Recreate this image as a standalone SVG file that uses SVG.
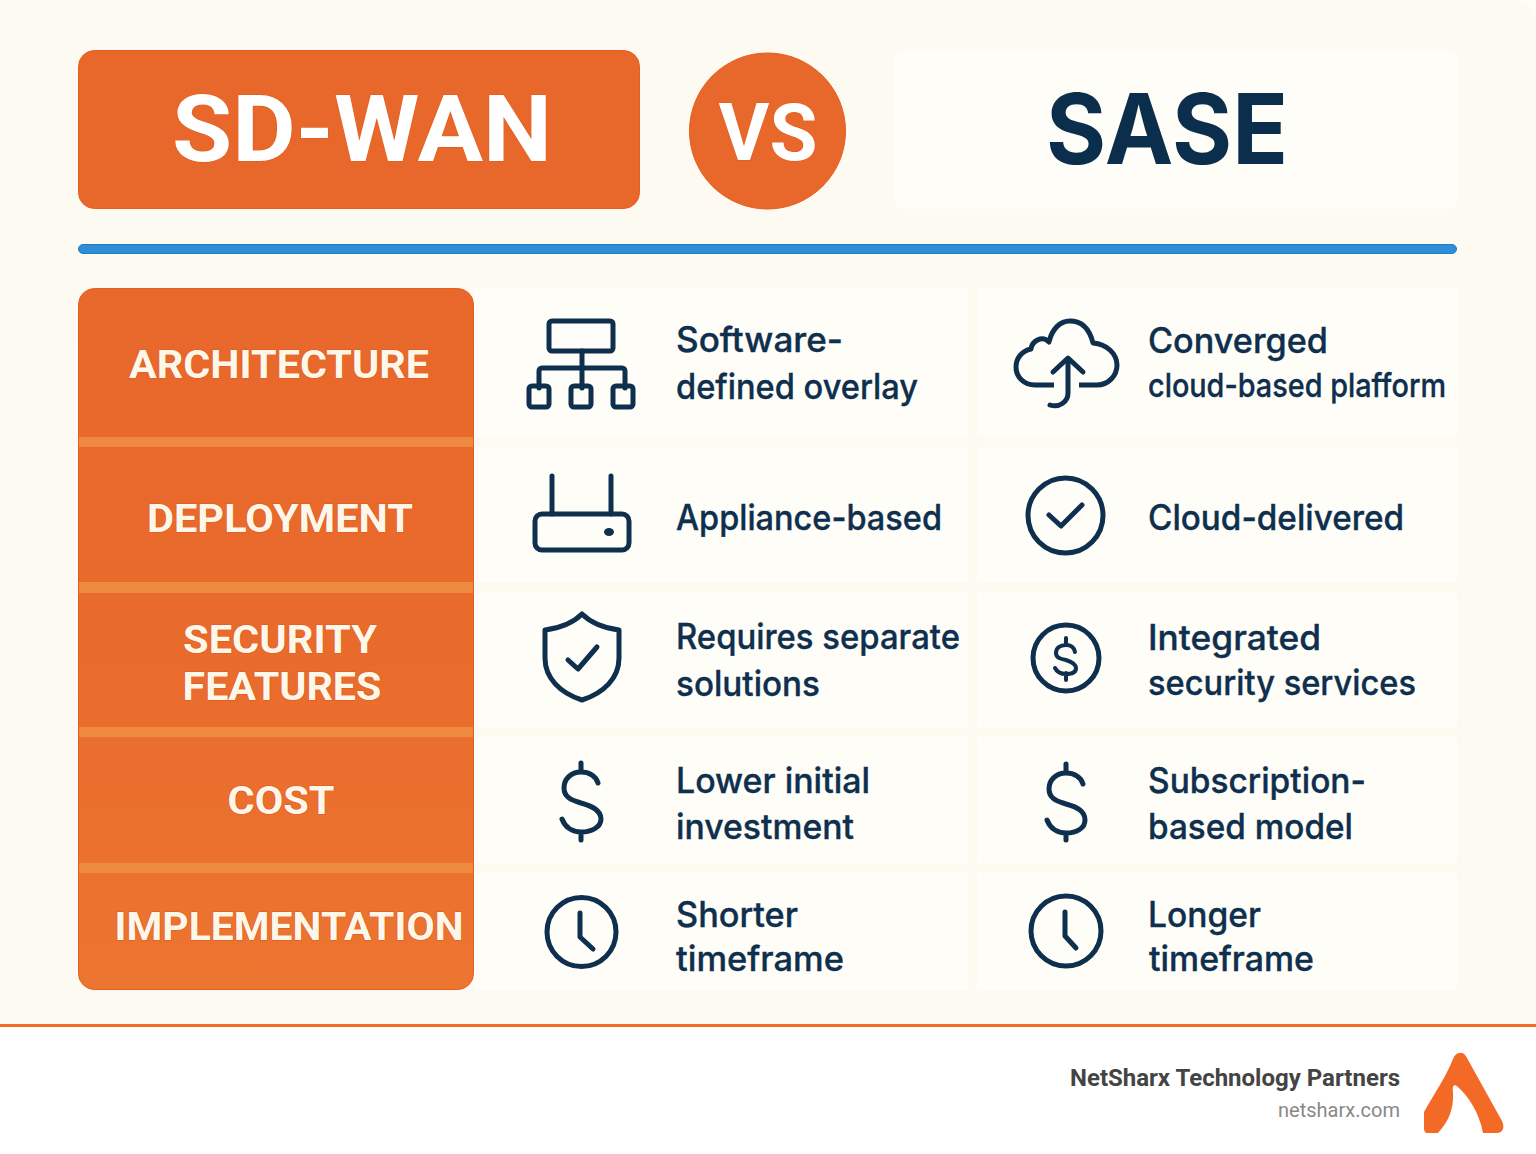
<svg xmlns="http://www.w3.org/2000/svg" width="1536" height="1154" viewBox="0 0 1536 1154">
<defs>
<linearGradient id="panel" x1="0" y1="0" x2="0" y2="1"><stop offset="0" stop-color="#e8682b"/><stop offset=".5" stop-color="#e96b2c"/><stop offset="1" stop-color="#ec7530"/></linearGradient>
</defs>
<style>
.cell{fill:#fefdf8}
.ic{fill:none;stroke:#0e2f4d;stroke-width:5;stroke-linecap:round;stroke-linejoin:round}
.body{font-family:Inter,"Noto Sans",sans-serif;font-size:35px;font-weight:500;fill:#0e2f4d;stroke:#0e2f4d;stroke-width:.35}
.lab{font-family:Roboto,"Noto Sans",sans-serif;font-size:39px;font-weight:700;fill:#fdf7ea;stroke:#e2581c;stroke-width:1.2;paint-order:stroke;text-anchor:middle}
.sep{fill:#ee8a40}
.ttl{font-family:Roboto,sans-serif;font-weight:700;fill:#ffffff;stroke:#e2581c;stroke-width:1;paint-order:stroke;text-anchor:middle}
</style>
<rect width="1536" height="1154" fill="#ffffff"/>
<rect width="1536" height="1026" fill="#fefdf8"/>
<path d="M0 0H1510Q1536 0 1536 26V1026H0Z" fill="#fcfaf1"/>
<g id="header-sdwan"><rect x="78.500" y="50.500" width="561" height="158" rx="16" fill="#e8682b" stroke="#e85c1e"/>
<text class="ttl" x="362" y="161" font-size="92" textLength="380" lengthAdjust="spacingAndGlyphs">SD-WAN</text></g>
<g id="header-vs"><circle cx="767.500" cy="131" r="78" fill="#e8682b" stroke="#e85c1e"/>
<text class="ttl" x="768" y="160" font-size="80" textLength="99" lengthAdjust="spacingAndGlyphs">VS</text></g>
<g id="header-sase"><rect x="895" y="51" width="562" height="158" rx="6" fill="#fefdf8"/>
<text x="1167" y="164" font-family="Inter,Roboto,sans-serif" font-size="98" font-weight="700" fill="#0b2e4c" text-anchor="middle" textLength="242" lengthAdjust="spacingAndGlyphs">SASE</text></g>
<rect id="divider" x="78.500" y="244.500" width="1378" height="9" rx="4.500" fill="#2f8fd6" stroke="#1f7cc4"/>

<g id="row-labels">
<rect x="78.500" y="288.500" width="395" height="701" rx="16" fill="url(#panel)" stroke="#e85c1e"/>
<rect class="sep" x="79" y="437" width="394" height="10"/>
<rect class="sep" x="79" y="582" width="394" height="11"/>
<rect class="sep" x="79" y="727" width="394" height="10"/>
<rect class="sep" x="79" y="863" width="394" height="10"/>
<text class="lab" x="279" y="378" textLength="300" lengthAdjust="spacingAndGlyphs">ARCHITECTURE</text>
<text class="lab" x="280" y="532" textLength="266" lengthAdjust="spacingAndGlyphs">DEPLOYMENT</text>
<text class="lab" x="280" y="653" textLength="194" lengthAdjust="spacingAndGlyphs">SECURITY</text>
<text class="lab" x="282" y="700" textLength="199" lengthAdjust="spacingAndGlyphs">FEATURES</text>
<text class="lab" x="281" y="814" textLength="107" lengthAdjust="spacingAndGlyphs">COST</text>
<text class="lab" x="289" y="940" textLength="349" lengthAdjust="spacingAndGlyphs">IMPLEMENTATION</text>
</g>

<g id="cell-architecture-sdwan"><rect class="cell" x="474" y="288" width="494" height="149"/>
<g class="ic"><rect x="549" y="321" width="64" height="30" rx="3"/><path d="M582 351V388M539 388V371a3 3 0 0 1 3-3H622a3 3 0 0 1 3 3V388"/><rect x="529" y="386" width="20" height="21" rx="3"/><rect x="571" y="386" width="20" height="21" rx="3"/><rect x="613" y="386" width="20" height="21" rx="3"/></g>
<text class="body" x="676" y="352" textLength="167" lengthAdjust="spacingAndGlyphs">Software-</text>
<text class="body" x="676" y="399" textLength="242" lengthAdjust="spacingAndGlyphs">defined overlay</text></g>

<g id="cell-architecture-sase"><rect class="cell" x="977" y="288" width="480" height="149"/>
<g class="ic"><path d="M1054 385H1035C1024 385 1016 377 1016 367C1016 358 1022 351 1031 349C1032 341 1042 335 1049 342C1052 329 1060 321 1070 321C1083 321 1090 331 1093 343C1107 344 1117 354 1117 365C1117 376 1108 385 1097 385H1079" stroke-linecap="butt"/><path d="M1053 372L1068 358L1083 372M1068 360V393C1068 402 1059 408 1050 405"/></g>
<text class="body" x="1148" y="353" textLength="180" lengthAdjust="spacingAndGlyphs">Converged</text>
<text class="body" x="1148" y="397" textLength="298" lengthAdjust="spacingAndGlyphs" style="font-size:33px">cloud-based plafform</text></g>

<g id="cell-deployment-sdwan"><rect class="cell" x="474" y="447" width="494" height="135"/>
<g class="ic"><rect x="535" y="514" width="94" height="36" rx="7"/><path d="M552 476V514M611 476V514"/></g><ellipse cx="609" cy="532" rx="5" ry="4" fill="#0e2f4d"/>
<text class="body" x="676" y="530" textLength="266" lengthAdjust="spacingAndGlyphs">Appliance-based</text></g>

<g id="cell-deployment-sase"><rect class="cell" x="977" y="447" width="480" height="135"/>
<g class="ic"><circle cx="1065.500" cy="515.500" r="37.500"/><path d="M1049 515L1061 526L1082 505"/></g>
<text class="body" x="1148" y="530" textLength="256" lengthAdjust="spacingAndGlyphs">Cloud-delivered</text></g>

<g id="cell-security-sdwan"><rect class="cell" x="474" y="593" width="494" height="134"/>
<g class="ic"><path d="M582 614C573 623 560 628 545 630V658C545 678 560 693 582 700C604 693 619 678 619 658V630C604 628 591 623 582 614Z"/><path d="M568 660L578 669L597 647"/></g>
<text class="body" x="676" y="649" textLength="284" lengthAdjust="spacingAndGlyphs">Requires separate</text>
<text class="body" x="676" y="696" textLength="144" lengthAdjust="spacingAndGlyphs">solutions</text></g>

<g id="cell-security-sase"><rect class="cell" x="977" y="593" width="480" height="134"/>
<g class="ic"><circle cx="1066" cy="658" r="33"/><path d="M1066 638V645M1066 673V680M1075 652C1074 647 1070 645 1066 645C1060 645 1056 648 1056 653C1056 658 1061 659 1066 660C1072 662 1076 664 1076 668C1076 672 1072 674 1066 674C1061 674 1057 672 1055 668" stroke-width="4"/></g>
<text class="body" x="1148" y="650" textLength="173" lengthAdjust="spacingAndGlyphs">Integrated</text>
<text class="body" x="1148" y="695" textLength="268" lengthAdjust="spacingAndGlyphs">security services</text></g>

<g id="cell-cost-sdwan"><rect class="cell" x="474" y="737" width="494" height="126"/>
<g class="ic"><path d="M581 763V772M581 832V840M598 783C596 776 589 772 581 772C571 772 564 779 564 788C564 797 571 800 581 803C592 806 601 810 601 819C601 827 592 832 581 832C572 832 565 827 562 819"/></g>
<text class="body" x="676" y="793" textLength="194" lengthAdjust="spacingAndGlyphs">Lower initial</text>
<text class="body" x="676" y="839" textLength="178" lengthAdjust="spacingAndGlyphs">investment</text></g>

<g id="cell-cost-sase"><rect class="cell" x="977" y="737" width="480" height="126"/>
<g class="ic"><path d="M1066 764V773M1066 833V840M1083 784C1081 777 1074 773 1066 773C1056 773 1049 780 1049 789C1049 798 1056 801 1066 804C1077 807 1085 811 1085 820C1085 828 1077 833 1066 833C1057 833 1050 828 1047 820"/></g>
<text class="body" x="1148" y="793" textLength="218" lengthAdjust="spacingAndGlyphs">Subscription-</text>
<text class="body" x="1148" y="839" textLength="205" lengthAdjust="spacingAndGlyphs">based model</text></g>

<g id="cell-implementation-sdwan"><rect class="cell" x="474" y="873" width="494" height="117"/>
<g class="ic"><circle cx="581.500" cy="932" r="34.500"/><path d="M580 913V937L593 949"/></g>
<text class="body" x="676" y="927" textLength="122" lengthAdjust="spacingAndGlyphs">Shorter</text>
<text class="body" x="676" y="971" textLength="168" lengthAdjust="spacingAndGlyphs">timeframe</text></g>

<g id="cell-implementation-sase"><rect class="cell" x="977" y="873" width="480" height="117"/>
<g class="ic"><circle cx="1066" cy="931" r="35"/><path d="M1065 912V936L1076 948"/></g>
<text class="body" x="1148" y="927" textLength="113" lengthAdjust="spacingAndGlyphs">Longer</text>
<text class="body" x="1149" y="971" textLength="165" lengthAdjust="spacingAndGlyphs">timeframe</text></g>

<g id="footer">
<rect y="1024" width="1536" height="3" fill="#f26a25"/>
<text x="1400" y="1086" font-family="Roboto,sans-serif" font-size="24" font-weight="700" fill="#444444" text-anchor="end" textLength="330" lengthAdjust="spacingAndGlyphs">NetSharx Technology Partners</text>
<text x="1400" y="1117" font-family="Roboto,sans-serif" font-size="20" fill="#888888" text-anchor="end" textLength="122" lengthAdjust="spacingAndGlyphs">netsharx.com</text>
<path d="M1424 1112C1434 1094 1446 1077 1453 1059C1456 1051 1464 1051 1467 1058L1502 1121C1505 1127 1503 1133 1497 1133H1483C1479 1112 1468 1096 1458 1087C1454 1083 1452 1086 1453 1092C1454 1110 1448 1122 1438 1133H1428C1425 1133 1424 1131 1424 1128Z" fill="#f26a25"/>
</g>
</svg>
